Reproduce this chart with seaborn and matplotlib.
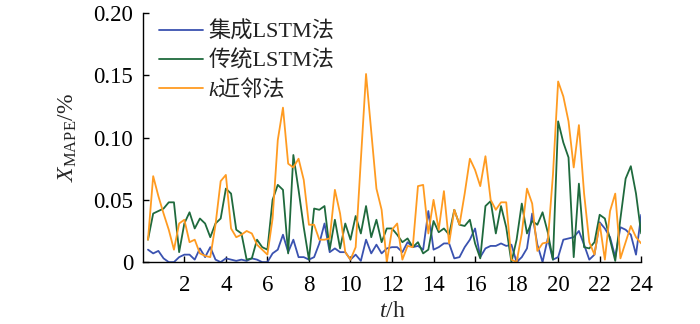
import numpy as np
import pandas as pd
import matplotlib
matplotlib.use("Agg")
import matplotlib.pyplot as plt
import seaborn as sns

# time in hours (15-min resolution)
hours = [0.25 * k for k in range(1, 97)]

lstm_ensemble = [
    0.010, 0.007, 0.009, 0.003, 0.000, 0.000, 0.004, 0.006, 0.006, 0.002, 0.011, 0.004, 0.012, 0.002, 0.000, 0.003,
    0.002, 0.001, 0.002, 0.001, 0.003, 0.002, 0.000, 0.000, 0.007, 0.010, 0.022, 0.008, 0.018, 0.004, 0.004, 0.002,
    0.004, 0.015, 0.031, 0.008, 0.011, 0.008, 0.008, 0.002, 0.006, 0.001, 0.018, 0.007, 0.014, 0.007, 0.011, 0.012,
    0.012, 0.008, 0.016, 0.012, 0.013, 0.010, 0.041, 0.010, 0.012, 0.015, 0.015, 0.003, 0.004, 0.012, 0.018, 0.027,
    0.004, 0.011, 0.013, 0.013, 0.015, 0.013, 0.014, 0.000, 0.004, 0.011, 0.039, 0.014, 0.000, 0.019, 0.002, 0.004,
    0.018, 0.019, 0.020, 0.025, 0.014, 0.002, 0.006, 0.032, 0.027, 0.020, 0.004, 0.028, 0.026, 0.022, 0.006, 0.038,
]
lstm_traditional = [
    0.018, 0.039, 0.041, 0.043, 0.048, 0.048, 0.008, 0.031, 0.040, 0.027, 0.035, 0.031, 0.020, 0.031, 0.035, 0.059,
    0.055, 0.026, 0.023, 0.002, 0.003, 0.018, 0.012, 0.010, 0.050, 0.062, 0.058, 0.007, 0.086, 0.058, 0.028, 0.002,
    0.043, 0.042, 0.045, 0.010, 0.034, 0.011, 0.031, 0.018, 0.037, 0.023, 0.045, 0.020, 0.034, 0.016, 0.027, 0.027,
    0.022, 0.016, 0.019, 0.012, 0.016, 0.007, 0.010, 0.033, 0.024, 0.027, 0.022, 0.042, 0.030, 0.029, 0.034, 0.015,
    0.003, 0.045, 0.049, 0.023, 0.045, 0.028, 0.000, 0.018, 0.047, 0.023, 0.033, 0.030, 0.040, 0.024, 0.002, 0.113,
    0.096, 0.084, 0.004, 0.063, 0.012, 0.011, 0.016, 0.038, 0.035, 0.018, 0.001, 0.035, 0.067, 0.077, 0.055, 0.023,
]
knn = [
    0.018, 0.069, 0.053, 0.039, 0.026, 0.010, 0.031, 0.034, 0.016, 0.018, 0.007, 0.005, 0.004, 0.030, 0.065, 0.070,
    0.027, 0.020, 0.022, 0.025, 0.023, 0.014, 0.010, 0.006, 0.035, 0.098, 0.124, 0.079, 0.076, 0.083, 0.066, 0.030,
    0.030, 0.018, 0.018, 0.019, 0.058, 0.039, 0.008, 0.002, 0.012, 0.082, 0.151, 0.105, 0.059, 0.042, 0.000, 0.026,
    0.031, 0.002, 0.013, 0.012, 0.061, 0.062, 0.023, 0.050, 0.026, 0.057, 0.015, 0.042, 0.030, 0.055, 0.083, 0.074,
    0.061, 0.085, 0.050, 0.042, 0.048, 0.048, 0.002, 0.000, 0.023, 0.059, 0.047, 0.009, 0.015, 0.016, 0.070, 0.145,
    0.133, 0.113, 0.076, 0.110, 0.055, 0.016, 0.006, 0.031, 0.002, 0.041, 0.055, 0.003, 0.016, 0.029, 0.020, 0.015,
]

series_names = ["集成LSTM法", "传统LSTM法", "k近邻法"]
x_ticks = [2, 4, 6, 8, 10, 12, 14, 16, 18, 20, 22, 24]
y_ticks = [0, 0.05, 0.10, 0.15, 0.20]
y_tick_labels = ["0", "0.05", "0.10", "0.15", "0.20"]

df = pd.DataFrame({
    "t": hours * 3,
    "v": lstm_ensemble + lstm_traditional + knn,
    "method": [series_names[0]] * 96 + [series_names[1]] * 96 + [series_names[2]] * 96,
})

sns.set_theme(style="ticks")
plt.rcParams["font.family"] = ["Liberation Serif", "Noto Sans CJK SC"]
plt.rcParams["mathtext.fontset"] = "custom"
plt.rcParams["mathtext.rm"] = "Liberation Serif"
plt.rcParams["mathtext.it"] = "Liberation Serif:italic"

fig = plt.figure(figsize=(7.0, 3.24), dpi=100)
ax = fig.add_axes([0.204, 0.191, 0.712, 0.769])

palette = {series_names[0]: "#3a52b0", series_names[1]: "#1f6a3d", series_names[2]: "#ff9b21"}
sns.lineplot(data=df, x="t", y="v", hue="method", palette=palette, ax=ax, linewidth=1.3, sort=False)

ax.set_xlim(0, 24)
ax.set_ylim(0, 0.20)
ax.set_xticks(x_ticks)
ax.set_yticks(y_ticks)
ax.set_yticklabels(y_tick_labels)
ax.tick_params(direction="in", labelsize=16.5, length=4, width=1, colors="black")
ax.tick_params(axis="x", pad=9)
ax.tick_params(axis="y", pad=7)
for s in ["top", "right"]:
    ax.spines[s].set_visible(False)
for s in ["left", "bottom"]:
    ax.spines[s].set_linewidth(1.0)
    ax.spines[s].set_color("black")

ax.set_xlabel(r"$t$/h", fontsize=17, labelpad=4)
ax.set_ylabel(r"$X_{\mathrm{MAPE}}$/%", fontsize=17, labelpad=10)

leg = ax.legend(loc="upper left", bbox_to_anchor=(0.005, 1.02), frameon=False, fontsize=16,
                handlelength=2.0, handletextpad=0.25, labelspacing=0.38, borderaxespad=0.2)
for t in leg.get_texts():
    t.set_color("#222222")
    if t.get_text().startswith("k"):
        t.set_fontstyle("italic")

fig.savefig("out.png", dpi=100)
